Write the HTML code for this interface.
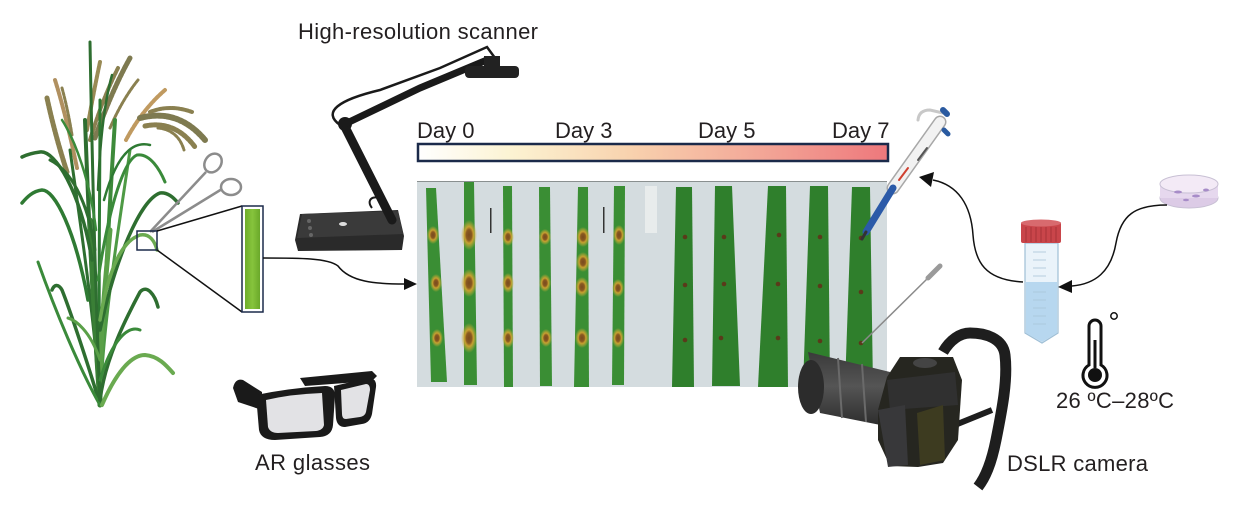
<!DOCTYPE html>
<html><head><meta charset="utf-8"><style>
html,body{margin:0;padding:0;background:#fff;}
svg{display:block;}
text{font-family:"Liberation Sans",Arial,sans-serif;fill:#231f20;}
</style></head><body>
<svg width="1242" height="516" viewBox="0 0 1242 516" xmlns="http://www.w3.org/2000/svg">
<defs>
<linearGradient id="bar" x1="0" x2="1" y1="0" y2="0">
<stop offset="0" stop-color="#ffffff"/>
<stop offset="0.2" stop-color="#fcf3d2"/>
<stop offset="0.45" stop-color="#f8d2ae"/>
<stop offset="0.72" stop-color="#f3a898"/>
<stop offset="1" stop-color="#ee787c"/>
</linearGradient>
<linearGradient id="lf" x1="0" x2="1"><stop offset="0" stop-color="#6ead2c"/><stop offset="0.5" stop-color="#86c43c"/><stop offset="1" stop-color="#6aa82a"/></linearGradient>
<linearGradient id="lens" x1="0" x2="0" y1="0" y2="1"><stop offset="0" stop-color="#3a3a3a"/><stop offset="0.45" stop-color="#555555"/><stop offset="1" stop-color="#2a2a2a"/></linearGradient>
<radialGradient id="halo"><stop offset="0" stop-color="#7a4a1e"/><stop offset="0.35" stop-color="#8a5a20"/><stop offset="0.55" stop-color="#c8a030"/><stop offset="1" stop-color="#c8b038" stop-opacity="0"/></radialGradient>
</defs>

<!-- ===== Rice plant ===== -->
<g fill="none" stroke-linecap="round">
<g stroke-dasharray="3 1.5">
<path d="M47,98 Q 55,135 67,172" stroke="#8a8050" stroke-width="5"/>
<path d="M55,80 Q 66,115 77,168" stroke="#b09060" stroke-width="4"/>
<path d="M62,88 Q 68,110 72,135" stroke="#8a8050" stroke-width="3"/>
<path d="M130,58 Q 112,90 95,138" stroke="#7e7a50" stroke-width="5"/>
<path d="M118,68 Q 102,100 90,140" stroke="#8a8050" stroke-width="4"/>
<path d="M100,62 Q 93,95 87,130" stroke="#998a55" stroke-width="4"/>
<path d="M138,80 Q 122,100 110,128" stroke="#8a8050" stroke-width="3"/>
<path d="M165,90 Q 142,110 126,140" stroke="#c09a60" stroke-width="4"/>
<path d="M140,118 Q 178,108 205,140" stroke="#7e7a50" stroke-width="6"/>
<path d="M145,126 Q 175,120 195,147" stroke="#8a8050" stroke-width="5"/>
<path d="M150,112 Q 170,104 192,112" stroke="#8a8050" stroke-width="4"/>
<path d="M158,128 Q 178,130 184,150" stroke="#8a8050" stroke-width="3"/>
</g>
<path d="M100,405 C 92,300 88,200 85,120" stroke="#2e6e30" stroke-width="4"/>
<path d="M100,405 C 104,300 110,200 115,120" stroke="#3d8a3a" stroke-width="4"/>
<path d="M100,405 C 98,300 100,200 100,100" stroke="#2e7a33" stroke-width="3"/>
<path d="M100,405 C 96,330 80,220 70,150" stroke="#2e6e30" stroke-width="3"/>
<path d="M100,405 C 103,320 120,220 130,150" stroke="#4e9a45" stroke-width="3"/>
<path d="M100,405 C 100,330 104,300 110,230" stroke="#5aa048" stroke-width="5"/>
<path d="M100,405 C 95,330 92,280 90,220" stroke="#3a7f36" stroke-width="5"/>
<path d="M100,405 C 96,300 92,160 90,42" stroke="#2e6e30" stroke-width="3"/>
<path d="M92,260 C 80,190 55,150 40,152 C 32,153 26,155 22,157" stroke="#2e6e30" stroke-width="3.5"/>
<path d="M88,300 C 75,230 55,190 42,190 C 33,191 27,197 22,203" stroke="#2f7a33" stroke-width="3.5"/>
<path d="M100,405 C 90,370 70,310 62,290 C 58,283 54,285 52,290" stroke="#2e6e30" stroke-width="3.5"/>
<path d="M100,405 C 80,370 55,310 38,262" stroke="#3a8a3a" stroke-width="3"/>
<path d="M100,400 C 105,360 125,320 140,292 C 147,284 155,295 158,307" stroke="#2e6e30" stroke-width="3.5"/>
<path d="M102,405 C 115,375 130,355 145,355 C 158,356 166,365 173,373" stroke="#6aaa50" stroke-width="4"/>
<path d="M100,330 C 115,260 140,200 160,193 C 168,192 174,198 178,203" stroke="#2e6e30" stroke-width="3.5"/>
<path d="M100,320 C 110,260 125,240 140,235 C 150,233 155,242 157,250" stroke="#6aaa50" stroke-width="3.5"/>
<path d="M98,280 C 110,200 125,160 137,155 C 150,153 160,170 165,182" stroke="#3a8a3a" stroke-width="3"/>
<path d="M95,250 C 88,200 70,170 50,160" stroke="#2e6e30" stroke-width="3"/>
<path d="M96,230 C 90,180 75,140 62,120" stroke="#3a8a3a" stroke-width="2.5"/>
<path d="M104,200 C 115,160 130,140 150,145" stroke="#2e7a33" stroke-width="2.5"/>
<path d="M100,360 C 90,330 75,320 68,318" stroke="#5aa048" stroke-width="3"/>
<path d="M100,380 C 112,340 128,325 140,330" stroke="#3a8a3a" stroke-width="3"/>
<path d="M98,190 C 100,140 105,100 112,75" stroke="#2e6e30" stroke-width="2.5"/>
</g>

<!-- scissors -->
<g fill="none" stroke="#8c8c8c" stroke-width="2.5">
<ellipse cx="213" cy="163" rx="8" ry="10" transform="rotate(35 213 163)"/>
<ellipse cx="231" cy="187" rx="10" ry="8"/>
<path d="M206,172 L 150,232"/>
<path d="M222,189 L 152,232"/>
</g>

<!-- zoom box -->
<rect x="137" y="231" width="20" height="19" fill="none" stroke="#1b2a4a" stroke-width="1.5"/>
<line x1="157" y1="231" x2="242" y2="206" stroke="#111" stroke-width="1.5"/>
<line x1="157" y1="250" x2="242" y2="312" stroke="#111" stroke-width="1.5"/>
<rect x="242" y="206" width="21" height="106" fill="#fff" stroke="#1b2a4a" stroke-width="1.5"/>
<rect x="245" y="209" width="15" height="100" fill="url(#lf)"/>

<!-- arrow to panel -->
<path d="M263,258 C 300,258 328,258 338,266 C 350,282 375,284 405,284" fill="none" stroke="#111" stroke-width="1.5"/>
<polygon points="404,278 417,284 404,290" fill="#111"/>

<!-- ===== Scanner ===== -->
<g>
<path d="M340,125 C 322,112 338,100 380,90 L 440,68 L 487,47 L 495,58" fill="none" stroke="#1a1a1a" stroke-width="2.5"/>
<path d="M372,208 C 364,198 378,192 386,204" fill="none" stroke="#1a1a1a" stroke-width="2"/>
<path d="M300,214 L 398,210 L 404,236 L 402,250 L 298,251 L 295,240 Z" fill="#2a2a2a"/>
<path d="M302,214 L 398,211 L 403,234 L 297,238 Z" fill="#3a3a3a"/>
<circle cx="309" cy="221" r="2" fill="#666"/><circle cx="310" cy="228" r="2" fill="#666"/><circle cx="311" cy="235" r="2" fill="#666"/>
<ellipse cx="343" cy="224" rx="4" ry="2" fill="#ddd"/>
<path d="M392,220 L 345,127" stroke="#1a1a1a" stroke-width="9" stroke-linecap="round"/>
<circle cx="345" cy="124" r="7" fill="#1a1a1a"/>
<path d="M345,124 L 420,88 L 487,60" fill="none" stroke="#1a1a1a" stroke-width="7" stroke-linecap="round"/>
<rect x="484" y="56" width="16" height="12" fill="#222"/>
<rect x="465" y="66" width="54" height="12" rx="4" fill="#222"/>
</g>

<!-- ===== Glasses ===== -->
<g fill="#1a1a1a">
<path d="M300,378 L 372,371 L 377,376 L 372,381 L 305,386 Z"/>
<path d="M233,388 Q 235,378 243,380 L 262,392 L 262,410 L 238,402 Z"/>
<path d="M256,395 Q 290,388 325,386 Q 335,386 335,396 L 333,425 Q 332,436 320,437 L 275,440 Q 261,440 259,430 Z"/>
<path d="M334,386 L 368,378 Q 377,378 376,387 L 372,414 Q 370,423 362,424 L 345,427 Q 337,427 336,418 Z"/>
</g>
<path d="M266,400 Q 292,394 322,393 L 324,425 Q 323,430 316,431 L 278,433 Q 270,433 268,427 Z" fill="#e2e2e5"/>
<path d="M341,390 L 366,384 Q 370,384 370,390 L 366,412 Q 365,416 360,417 L 346,419 Q 342,419 342,414 Z" fill="#e2e2e5"/>

<!-- ===== Color bar ===== -->
<rect x="418" y="144" width="470" height="17" fill="url(#bar)" stroke="#1b2a4a" stroke-width="2.5"/>
<text x="417" y="138" font-size="22">Day 0</text>
<text x="555" y="138" font-size="22">Day 3</text>
<text x="698" y="138" font-size="22">Day 5</text>
<text x="832" y="138" font-size="22">Day 7</text>

<!-- ===== Panel ===== -->
<rect x="417" y="181" width="470" height="206" fill="#d4dcdf"/>
<line x1="417" y1="181.5" x2="887" y2="181.5" stroke="#8a9090" stroke-width="1"/>
<g fill="#3a8e34">
<polygon points="426,188 436,188 447,382 431,382"/>
<polygon points="464,182 474,182 477,385 464,385"/>
<polygon points="503,186 512,186 513,387 504,387"/>
<polygon points="539,187 550,187 552,386 540,386"/>
<polygon points="578,187 588,187 589,387 574,387"/>
<polygon points="614,186 625,186 624,385 612,385"/>
</g>
<g fill="#2f7f2c">
<polygon points="676,187 692,187 694,387 672,387"/>
<polygon points="715,186 732,186 740,386 712,386"/>
<polygon points="768,186 786,186 788,387 758,387"/>
<polygon points="810,186 828,186 830,387 803,387"/>
<polygon points="852,187 870,187 873,387 845,387"/>
</g>
<rect x="490" y="208" width="1.5" height="25" fill="#333"/>
<rect x="603" y="207" width="1.5" height="26" fill="#333"/>
<rect x="645" y="186" width="12" height="47" fill="#e8ecec"/>
<g fill="url(#halo)">
<ellipse cx="433" cy="235" rx="6" ry="9"/><ellipse cx="436" cy="283" rx="6" ry="9"/><ellipse cx="437" cy="338" rx="6" ry="9"/>
<ellipse cx="469" cy="235" rx="8" ry="15"/><ellipse cx="469" cy="283" rx="8" ry="14"/><ellipse cx="469" cy="338" rx="8" ry="15"/>
<ellipse cx="508" cy="237" rx="6" ry="9"/><ellipse cx="508" cy="283" rx="6" ry="10"/><ellipse cx="508" cy="338" rx="6" ry="10"/>
<ellipse cx="545" cy="237" rx="6" ry="8"/><ellipse cx="545" cy="283" rx="6" ry="9"/><ellipse cx="546" cy="338" rx="6" ry="9"/>
<ellipse cx="583" cy="237" rx="7" ry="10"/><ellipse cx="583" cy="262" rx="7" ry="10"/><ellipse cx="582" cy="287" rx="7" ry="10"/><ellipse cx="582" cy="338" rx="7" ry="10"/>
<ellipse cx="619" cy="235" rx="6" ry="10"/><ellipse cx="618" cy="288" rx="6" ry="9"/><ellipse cx="618" cy="338" rx="6" ry="10"/>
</g>
<g fill="#5a3a1a">
<circle cx="685" cy="237" r="2.3"/><circle cx="685" cy="285" r="2.3"/><circle cx="685" cy="340" r="2.3"/>
<circle cx="724" cy="237" r="2.3"/><circle cx="724" cy="284" r="2.3"/><circle cx="721" cy="338" r="2.3"/>
<circle cx="779" cy="235" r="2.3"/><circle cx="778" cy="284" r="2.3"/><circle cx="778" cy="338" r="2.3"/>
<circle cx="820" cy="237" r="2.3"/><circle cx="820" cy="286" r="2.3"/><circle cx="820" cy="341" r="2.3"/>
<circle cx="861" cy="238" r="2.3"/><circle cx="861" cy="292" r="2.3"/><circle cx="861" cy="343" r="2.3"/>
</g>

<!-- pipette -->
<g stroke-linecap="round" fill="none">
<path d="M918,120 Q 919,110 930,110 L 943,113" stroke="#c8c8c8" stroke-width="3"/>
<path d="M940,122 L 893,188" stroke="#a8a8a8" stroke-width="13"/>
<path d="M940,122 L 893,188" stroke="#f2f2f2" stroke-width="10"/>
<path d="M908,168 L 899,180" stroke="#d04030" stroke-width="2"/>
<path d="M927,148 L 918,160" stroke="#555" stroke-width="2"/>
<path d="M943,110 L 947,114" stroke="#2a5aa0" stroke-width="6"/>
<path d="M944,130 L 948,134" stroke="#2a5aa0" stroke-width="5"/>
<path d="M893,188 L 866,232" stroke="#2b5aa8" stroke-width="7"/>
<path d="M866,232 L 862,239" stroke="#333" stroke-width="3"/>
</g>
<path d="M930,276 L 862,343" stroke="#8a8a8a" stroke-width="1.5"/>
<path d="M940,266 L 928,278" stroke="#9a9a9a" stroke-width="5" stroke-linecap="round"/>

<!-- ===== Camera ===== -->
<path d="M943,352 C 950,340 960,333 970,333 C 985,333 1003,338 1005,355 C 1008,380 1002,410 996,440 C 991,465 985,478 978,487" fill="none" stroke="#1e1e1e" stroke-width="11"/>
<path d="M955,425 L 992,410" stroke="#1e1e1e" stroke-width="6"/>
<path d="M808,352 L 890,372 L 896,428 L 820,413 Z" fill="url(#lens)"/>
<ellipse cx="811" cy="387" rx="13" ry="27" fill="#2c2c2c"/>
<path d="M838,358 L 842,418 M862,364 L 866,422" stroke="#6a6a6a" stroke-width="2"/>
<path d="M887,377 L 900,357 L 953,357 L 962,380 L 958,440 L 943,463 L 918,467 L 890,466 L 878,440 L 878,410 Z" fill="#262620"/>
<path d="M887,380 L 955,372 L 958,405 L 890,410 Z" fill="#303030"/>
<path d="M917,413 L 943,405 L 945,460 L 920,465 Z" fill="#3d3b20"/>
<path d="M878,410 L 905,405 L 908,465 L 888,467 Z" fill="#38383a"/>
<ellipse cx="925" cy="363" rx="12" ry="5" fill="#444"/>

<!-- ===== Tube ===== -->
<path d="M1025,243 L 1058,243 L 1058,333 L 1042,343 L 1025,333 Z" fill="#eaf3fa" stroke="#9fbfd6" stroke-width="1.2"/>
<path d="M1026,282 L 1057,282 L 1057,333 L 1042,342 L 1026,333 Z" fill="#b7d7ef"/>
<g stroke="#a9c4d8" stroke-width="0.8">
<line x1="1033" y1="252" x2="1046" y2="252"/><line x1="1033" y1="260" x2="1046" y2="260"/><line x1="1033" y1="268" x2="1046" y2="268"/><line x1="1033" y1="276" x2="1046" y2="276"/><line x1="1033" y1="292" x2="1046" y2="292"/><line x1="1033" y1="300" x2="1046" y2="300"/><line x1="1033" y1="308" x2="1046" y2="308"/><line x1="1033" y1="316" x2="1046" y2="316"/><line x1="1033" y1="324" x2="1046" y2="324"/>
</g>
<rect x="1021" y="222" width="40" height="21" rx="2" fill="#c9454a"/>
<ellipse cx="1041" cy="223" rx="20" ry="3.5" fill="#d86a6e"/>
<g stroke="#a83238" stroke-width="1"><line x1="1026" y1="227" x2="1026" y2="242"/><line x1="1031" y1="227" x2="1031" y2="242"/><line x1="1036" y1="227" x2="1036" y2="242"/><line x1="1041" y1="227" x2="1041" y2="242"/><line x1="1046" y1="227" x2="1046" y2="242"/><line x1="1051" y1="227" x2="1051" y2="242"/><line x1="1056" y1="227" x2="1056" y2="242"/></g>

<!-- petri dish -->
<ellipse cx="1189" cy="198" rx="29" ry="10" fill="#dccbe6" stroke="#c8c0d4"/>
<rect x="1160" y="184" width="58" height="14" fill="#e6d8ee"/>
<ellipse cx="1189" cy="184" rx="29" ry="9" fill="#f3eaf6" stroke="#c8c0d4"/>
<g fill="#a78cc8"><ellipse cx="1178" cy="192" rx="4" ry="1.5"/><ellipse cx="1196" cy="196" rx="4" ry="1.5"/><ellipse cx="1206" cy="190" rx="3" ry="1.5"/><ellipse cx="1186" cy="200" rx="3" ry="1.2"/></g>

<!-- arrows right -->
<path d="M1023,282 C 985,280 975,262 973,235 C 971,205 958,185 933,180" fill="none" stroke="#111" stroke-width="1.5"/>
<polygon points="919,177 934,172 931,187" fill="#111"/>
<path d="M1167,205 C 1135,205 1121,215 1116,243 C 1111,272 1095,284 1072,286" fill="none" stroke="#111" stroke-width="1.5"/>
<polygon points="1058,287 1072,280 1072,293" fill="#111"/>

<!-- thermometer -->
<path d="M1089,365 L 1089,326 A 6,6 0 0 1 1101,326 L 1101,365 A 12,12 0 1 1 1089,365 Z" fill="none" stroke="#111" stroke-width="3"/>
<line x1="1095" y1="340" x2="1095" y2="368" stroke="#111" stroke-width="3"/>
<circle cx="1095" cy="375" r="7" fill="#111"/>
<circle cx="1114" cy="316" r="3.2" fill="none" stroke="#111" stroke-width="1.5"/>

<!-- labels -->
<text x="298" y="39" font-size="22" textLength="240">High-resolution scanner</text>
<text x="255" y="470" font-size="22" textLength="115">AR glasses</text>
<text x="1007" y="471" font-size="22" textLength="141">DSLR camera</text>
<text x="1056" y="408" font-size="22" textLength="118">26 ºC–28ºC</text>
</svg>
</body></html>
